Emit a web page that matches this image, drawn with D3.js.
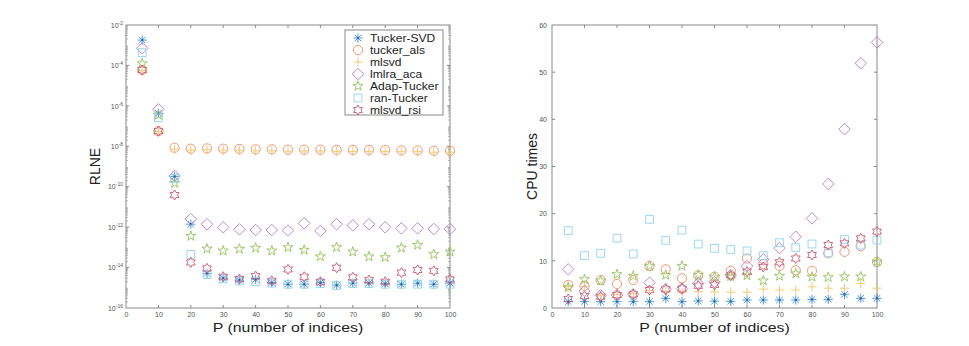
<!DOCTYPE html>
<html>
<head>
<meta charset="utf-8">
<script src="https://cdn.jsdelivr.net/npm/d3@7"></script>
<style>
  body { margin: 0; background: #fff; }
  svg { display: block; font-family: "Liberation Sans", Arial, sans-serif; }
</style>
</head>
<body>
<div></div>
<script>
const width = 969;
const height = 346;

const P = [5, 10, 15, 20, 25, 30, 35, 40, 45, 50, 55, 60, 65, 70, 75, 80, 85, 90, 95, 100];

const seriesNames = ["Tucker-SVD", "tucker_als", "mlsvd", "lmlra_aca", "Adap-Tucker", "ran-Tucker", "mlsvd_rsi"];

// RLNE (left panel)
const rlneTuckerSVD = [1.8e-3, 4.3e-7, 3.2e-10, 1.4e-12, 5.1e-15, 3.0e-15, 2.4e-15, 2.6e-15, 1.8e-15, 1.5e-15, 1.5e-15, 1.8e-15, 1.35e-15, 1.7e-15, 1.7e-15, 1.6e-15, 1.5e-15, 1.7e-15, 1.5e-15, 1.7e-15];
const rlneTuckerAls = [5.9e-5, 5.6e-8, 8.5e-9, 7.6e-9, 7.9e-9, 7.6e-9, 7.4e-9, 7.1e-9, 7.1e-9, 6.8e-9, 6.8e-9, 6.8e-9, 6.6e-9, 6.6e-9, 6.6e-9, 6.5e-9, 6.3e-9, 6.3e-9, 6.0e-9, 6.0e-9];
const rlneMlsvd = [5.5e-5, 5.2e-8, 7.2e-9, 6.5e-9, 6.7e-9, 6.5e-9, 6.3e-9, 6.0e-9, 6.0e-9, 5.8e-9, 5.8e-9, 5.8e-9, 5.6e-9, 5.6e-9, 5.6e-9, 5.5e-9, 5.4e-9, 5.4e-9, 5.1e-9, 5.1e-9];
const rlneLmlraAca = [7.1e-4, 6.8e-7, 3.4e-10, 2.5e-12, 1.4e-12, 9.8e-13, 7.8e-13, 7.2e-13, 7.2e-13, 6.8e-13, 1.55e-12, 6.5e-13, 1.4e-12, 1.23e-12, 1.4e-12, 9.8e-13, 8.7e-13, 8.7e-13, 8.1e-13, 8.1e-13];
const rlneAdapTucker = [1.26e-4, 3.5e-7, 1.5e-10, 3.6e-13, 8.5e-14, 6.8e-14, 8.3e-14, 9.3e-14, 6.8e-14, 1.0e-13, 7.4e-14, 3.5e-14, 1.0e-13, 6.0e-14, 3.5e-14, 3.2e-14, 9.5e-14, 1.3e-13, 4.5e-14, 6.0e-14];
const rlneRanTucker = [4.3e-4, 2.6e-7, 2.5e-10, 4.5e-14, 4.5e-15, 2.8e-15, 2.2e-15, 2.0e-15, 1.7e-15, 1.5e-15, 1.5e-15, 1.6e-15, 1.3e-15, 1.6e-15, 1.6e-15, 1.5e-15, 1.5e-15, 1.5e-15, 1.5e-15, 1.5e-15];
const rlneMlsvdRsi = [5.9e-5, 5.6e-8, 3.9e-11, 1.8e-14, 9.1e-15, 3.5e-15, 2.7e-15, 3.8e-15, 2.2e-15, 8.1e-15, 3.5e-15, 2.0e-15, 9.8e-15, 3.3e-15, 2.4e-15, 2.0e-15, 5.6e-15, 7.6e-15, 6.9e-15, 2.6e-15];

// CPU times (right panel)
const cpuTuckerSVD = [1.35, 1.35, 1.35, 1.35, 1.35, 1.35, 2.05, 1.35, 1.5, 1.45, 1.4, 1.7, 1.7, 1.7, 1.7, 1.8, 1.84, 2.9, 2.05, 2.05];
const cpuTuckerAls = [4.88, 4.73, 5.9, 5.1, 5.93, 8.9, 8.2, 6.3, 6.9, 6.64, 7.9, 10.5, 9.3, 8.9, 8.0, 7.9, 11.6, 11.9, 13.1, 9.75];
const cpuMlsvd = [4.6, 4.6, 2.6, 2.9, 3.0, 3.7, 3.5, 3.25, 3.46, 3.4, 3.35, 3.35, 4.0, 3.8, 3.8, 4.5, 4.2, 4.2, 5.2, 4.2];
const cpuLmlraAca = [8.2, 3.6, 2.7, 2.75, 2.9, 5.37, 4.0, 4.1, 5.2, 5.5, 7.0, 8.9, 10.3, 12.7, 15.1, 19.0, 26.3, 37.9, 51.9, 56.3];
const cpuAdapTucker = [4.38, 6.08, 5.8, 7.14, 6.78, 8.9, 7.0, 8.9, 7.0, 6.6, 6.7, 6.9, 5.8, 6.78, 7.3, 6.6, 6.5, 6.64, 6.64, 9.8];
const cpuRanTucker = [16.4, 11.1, 11.6, 14.8, 11.45, 18.8, 14.35, 16.5, 13.55, 12.65, 12.4, 12.1, 11.1, 13.85, 12.8, 13.57, 11.7, 14.55, 13.35, 14.4];
const cpuMlsvdRsi = [1.9, 2.54, 2.4, 2.75, 2.9, 3.8, 3.96, 4.1, 4.7, 4.9, 6.9, 7.7, 8.7, 9.7, 10.5, 11.24, 13.35, 13.7, 14.77, 16.2];

const xTicks = [0, 10, 20, 30, 40, 50, 60, 70, 80, 90, 100];
const rlneTicks = [1e-16, 1e-14, 1e-12, 1e-10, 1e-8, 1e-6, 1e-4, 1e-2];
const cpuTicks = [0, 10, 20, 30, 40, 50, 60];

const colors = ["#3f8fd6", "#ee8d62", "#f3c466", "#b77ccc", "#93c35f", "#8fd2f2", "#c9566e"];
const markers = ["asterisk", "circle", "plus", "diamond", "pentagram", "square", "hexagram"];

const axisColor = "#8a8a8a";
const labelColor = "#555";

const svg = d3.select("div").append("svg").attr("width", width).attr("height", height);

// marker paths centred at 0,0
function markerPath(type, r) {
  const p = d3.path();
  if (type === "circle") {
    p.arc(0, 0, r, 0, 2 * Math.PI);
  } else if (type === "plus") {
    p.moveTo(-r, 0); p.lineTo(r, 0); p.moveTo(0, -r); p.lineTo(0, r);
  } else if (type === "asterisk") {
    for (let k = 0; k < 4; k++) {
      const a = (k * Math.PI) / 4;
      p.moveTo(-r * Math.cos(a), -r * Math.sin(a));
      p.lineTo(r * Math.cos(a), r * Math.sin(a));
    }
  } else if (type === "diamond") {
    const w = r * 1.25;
    p.moveTo(0, -w); p.lineTo(w, 0); p.lineTo(0, w); p.lineTo(-w, 0); p.closePath();
  } else if (type === "square") {
    const s = r * 0.85;
    p.rect(-s, -s, 2 * s, 2 * s);
  } else if (type === "pentagram") {
    const R = r * 1.15, ri = R * 0.382;
    for (let k = 0; k < 10; k++) {
      const rr = k % 2 === 0 ? R : ri;
      const a = -Math.PI / 2 + (k * Math.PI) / 5;
      if (k === 0) p.moveTo(rr * Math.cos(a), rr * Math.sin(a));
      else p.lineTo(rr * Math.cos(a), rr * Math.sin(a));
    }
    p.closePath();
  } else if (type === "hexagram") {
    const R = r * 1.1, ri = R * 0.577;
    for (let k = 0; k < 12; k++) {
      const rr = k % 2 === 0 ? R : ri;
      const a = -Math.PI / 2 + (k * Math.PI) / 6;
      if (k === 0) p.moveTo(rr * Math.cos(a), rr * Math.sin(a));
      else p.lineTo(rr * Math.cos(a), rr * Math.sin(a));
    }
    p.closePath();
  }
  return p.toString();
}

function drawMarker(g, type, color, x, y) {
  g.append("path")
    .attr("d", markerPath(type, 4.6))
    .attr("transform", "translate(" + x + "," + y + ")")
    .attr("fill", "none")
    .attr("stroke", color)
    .attr("stroke-width", 0.9);
  if (type === "asterisk") {
    g.append("circle").attr("cx", x).attr("cy", y).attr("r", 1).attr("fill", "#1d5f9e");
  }
}

function drawPanel(opts) {
  const g = svg.append("g");
  const x = d3.scaleLinear().domain([0, 100]).range([opts.left, opts.right]);
  const y = opts.y;
  const top = opts.top, bottom = opts.bottom;

  // bottom / top ticks
  const xb = g.append("g").attr("transform", "translate(0," + bottom + ")")
    .call(d3.axisBottom(x).tickValues(xTicks).tickSize(0).tickPadding(4));
  xb.select(".domain").remove();
  xb.selectAll("text").attr("fill", labelColor).attr("font-size", 7);
  g.append("g").selectAll("line").data(xTicks.slice(1, -1)).join("line")
    .attr("x1", d => x(d)).attr("x2", d => x(d))
    .attr("y1", bottom).attr("y2", bottom - 3).attr("stroke", axisColor);
  g.append("g").selectAll("line").data(xTicks.slice(1, -1)).join("line")
    .attr("x1", d => x(d)).attr("x2", d => x(d))
    .attr("y1", top).attr("y2", top + 3).attr("stroke", axisColor);

  // left axis labels
  const yl = g.append("g").attr("transform", "translate(" + opts.left + ",0)")
    .call(d3.axisLeft(y).tickValues(opts.yTicks).tickSize(0).tickPadding(opts.log ? 3 : 5)
      .tickFormat(opts.log ? () => "" : d3.format("d")));
  yl.select(".domain").remove();
  yl.selectAll("text").attr("fill", labelColor).attr("font-size", 7);
  if (opts.log) {
    yl.selectAll(".tick text").each(function (d) {
      const t = d3.select(this);
      t.append("tspan").text("10");
      t.append("tspan").attr("dy", -3).attr("font-size", 5).text(Math.round(Math.log10(d)));
    });
  }

  // y ticks on both sides
  const minor = [];
  if (opts.log) {
    for (let e = -16; e < -2; e++) {
      for (let m = 2; m <= 9; m++) minor.push(m * Math.pow(10, e));
    }
  }
  [opts.left, opts.right].forEach((xx, side) => {
    const dir = side === 0 ? 1 : -1;
    g.append("g").selectAll("line").data(opts.yTicks.slice(1, -1)).join("line")
      .attr("x1", xx).attr("x2", xx + dir * 3)
      .attr("y1", d => y(d)).attr("y2", d => y(d)).attr("stroke", axisColor);
    g.append("g").selectAll("line").data(minor).join("line")
      .attr("x1", xx).attr("x2", xx + dir * 2)
      .attr("y1", d => y(d)).attr("y2", d => y(d)).attr("stroke", axisColor).attr("stroke-width", 0.6);
  });

  // box
  g.append("rect")
    .attr("x", opts.left).attr("y", top)
    .attr("width", opts.right - opts.left).attr("height", bottom - top)
    .attr("fill", "none").attr("stroke", axisColor).attr("stroke-width", 1);

  // series
  opts.series.forEach((vals, i) => {
    const sg = g.append("g");
    vals.forEach((v, j) => drawMarker(sg, markers[i], colors[i], x(P[j]), y(v)));
  });

  // axis titles (the source figure is stretched sideways a little)
  g.append("text")
    .attr("transform", "translate(" + ((opts.left + opts.right) / 2) + ",332) scale(1.22,1)")
    .attr("text-anchor", "middle").attr("font-size", 13).attr("fill", "#222")
    .text("P (number of indices)");
  g.append("text")
    .attr("transform", "translate(" + opts.titleX + "," + ((top + bottom) / 2) + ") rotate(-90)")
    .attr("text-anchor", "middle").attr("font-size", 14).attr("fill", "#222")
    .text(opts.yTitle);
  return g;
}

const left = drawPanel({
  left: 126, right: 450, top: 25, bottom: 308,
  y: d3.scaleLog().domain([1e-16, 1e-2]).range([308, 25]),
  yTicks: rlneTicks, log: true,
  series: [rlneTuckerSVD, rlneTuckerAls, rlneMlsvd, rlneLmlraAca, rlneAdapTucker, rlneRanTucker, rlneMlsvdRsi],
  yTitle: "RLNE", titleX: 100
});

drawPanel({
  left: 552, right: 877, top: 25, bottom: 308,
  y: d3.scaleLinear().domain([0, 60]).range([308, 25]),
  yTicks: cpuTicks, log: false,
  series: [cpuTuckerSVD, cpuTuckerAls, cpuMlsvd, cpuLmlraAca, cpuAdapTucker, cpuRanTucker, cpuMlsvdRsi],
  yTitle: "CPU times", titleX: 537
});

// legend
const legend = left.append("g").attr("transform", "translate(345,30)");
legend.append("rect").attr("width", 98).attr("height", 85)
  .attr("fill", "#fff").attr("stroke", axisColor).attr("stroke-width", 1);
seriesNames.forEach((name, i) => {
  const yy = 8 + i * 12;
  drawMarker(legend, markers[i], colors[i], 13, yy);
  legend.append("text")
    .attr("transform", "translate(25," + (yy + 4) + ") scale(1.15,1)")
    .attr("font-size", 10.5).attr("fill", "#222").text(name);
});
</script>
</body>
</html>
